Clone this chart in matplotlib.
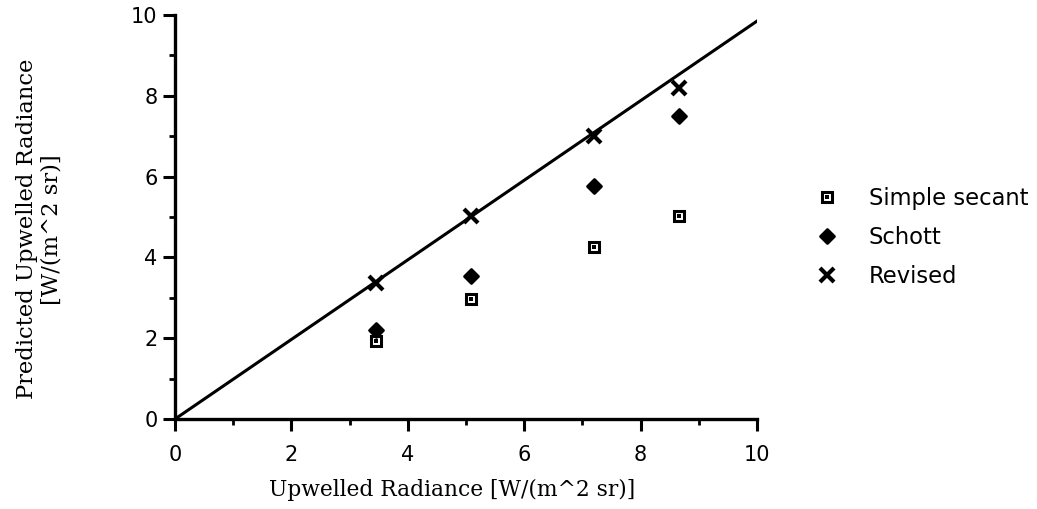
import matplotlib
matplotlib.use("Agg")
import matplotlib.pyplot as plt
from matplotlib.legend_handler import HandlerTuple
from matplotlib.markers import MarkerStyle
from matplotlib.ticker import MultipleLocator

# Data
x_vals = [3.45, 5.08, 7.2, 8.66]
simple_secant = [1.94, 2.96, 4.27, 5.03]
schott = [2.2, 3.53, 5.77, 7.51]
revised = [3.36, 5.03, 7.0, 8.19]
line_x = [0, 10]
line_y = [0, 9.85]
xticks = [0, 2, 4, 6, 8, 10]
yticks = [0, 2, 4, 6, 8, 10]

fig = plt.figure(figsize=(10.37, 5.09), dpi=100)
ax = fig.add_axes([0.1688, 0.1768, 0.5612, 0.7937])

ax.plot(line_x, line_y, color="black", lw=2.2, zorder=2)

sq = ax.plot(x_vals, simple_secant, linestyle="none", marker="s", ms=7.2,
             mfc="white", mec="black", mew=2.2, zorder=3)[0]
dot = ax.plot(x_vals, simple_secant, linestyle="none", marker="s", ms=2.2,
              mfc="black", mec="black", mew=0, zorder=4)[0]
sc = ax.plot(x_vals, schott, linestyle="none",
             marker=MarkerStyle("D", joinstyle="round"), ms=6.8,
             mfc="black", mec="black", mew=2.0, zorder=3)[0]
rv = ax.plot(x_vals, revised, linestyle="none", marker="x", ms=9.5,
             mec="black", mew=3.0, zorder=3)[0]

ax.set_xlim(0, 10)
ax.set_ylim(0, 10)
ax.set_xticks(xticks)
ax.set_yticks(yticks)
ax.xaxis.set_minor_locator(MultipleLocator(1))
ax.yaxis.set_minor_locator(MultipleLocator(1))
ax.tick_params(which="major", direction="out", length=8.5, width=2.2,
               labelsize=15)
ax.tick_params(axis="x", which="major", pad=10.5)
ax.tick_params(axis="y", which="major", pad=4)
ax.tick_params(which="minor", direction="out", length=4, width=2)
for lab in ax.get_xticklabels() + ax.get_yticklabels():
    lab.set_fontfamily("DejaVu Sans")

ax.spines["top"].set_visible(False)
ax.spines["right"].set_visible(False)
ax.spines["left"].set_linewidth(2.4)
ax.spines["bottom"].set_linewidth(2.4)

ax.set_xlabel("Upwelled Radiance [W/(m^2 sr)]", fontfamily="DejaVu Serif",
              fontsize=15.7, va="center")
ax.xaxis.set_label_coords(0.476, -0.176)
ax.set_ylabel("Predicted Upwelled Radiance\n[W/(m^2 sr)]",
              fontfamily="DejaVu Serif", fontsize=16.3,
              linespacing=1.15, va="center")
ax.yaxis.set_label_coords(-0.233, 0.47)

leg = fig.legend([(sq, dot), sc, rv], ["Simple secant", "Schott", "Revised"],
                 handler_map={tuple: HandlerTuple(ndivide=1)},
                 loc="upper left", bbox_to_anchor=(795 / 1037, 1 - 167 / 509),
                 frameon=False, prop={"family": "DejaVu Sans", "size": 16.3},
                 labelspacing=0.69, handlelength=1.0, handletextpad=1.36,
                 borderpad=0.4)

fig.savefig("out.png", dpi=100)
